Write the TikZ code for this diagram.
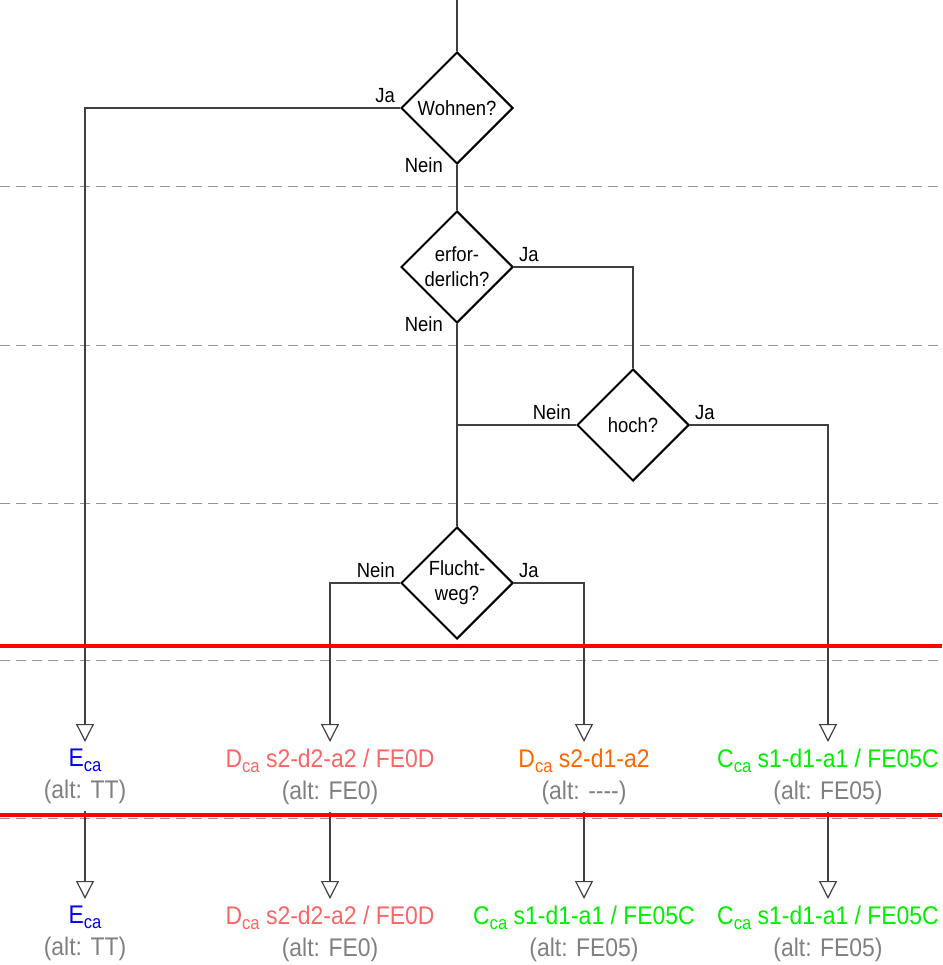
\documentclass[tikz,border=0pt]{standalone}
\usepackage{fontspec}
\setmainfont{Liberation Sans}[FakeStretch=0.9]
\usetikzlibrary{shapes.geometric,arrows.meta}

\definecolor{ecol}{HTML}{0000FF}
\definecolor{dcol}{HTML}{FF6464}
\definecolor{ocol}{HTML}{FF6600}
\definecolor{ccol}{HTML}{00F000}
\definecolor{altcol}{HTML}{808080}
\definecolor{linecol}{HTML}{404040}

\newcommand{\lowidx}[1]{\raisebox{-5pt}{\fontsize{18.5}{18.5}\selectfont #1}}
\newcommand{\outcome}[3]{\textcolor{#1}{#2}\\\textcolor{altcol}{(alt: #3)}}

\tikzset{
  ask/.style={diamond, draw=black, line width=2pt, minimum width=112pt, minimum height=112pt,
    inner sep=0pt, align=center, font=\fontsize{20.5}{25}\selectfont},
  yn/.style={font=\fontsize{20.5}{21}\selectfont, inner sep=2pt},
  res/.style={anchor=north, align=center, inner xsep=2pt, inner ysep=7pt, font=\fontsize{25.5}{32}\selectfont},
  flow/.style={draw=linecol, line width=1.2pt},
  hit/.style={flow, -{Triangle[open, length=18pt, width=18pt]}},
}

\begin{document}
\begin{tikzpicture}[x=1pt, y=-1pt]
	\useasboundingbox (0,0) rectangle (942,965);

	% Trennlinien
	\foreach \yy in {187,345,503,660,818}
		\draw[altcol!85, line width=1pt, dash pattern=on 10pt off 6pt] (0,\yy) -- (942,\yy);

	\coordinate (top) at (457,0);
	\node[ask] (wohnen) at (457,108) {Wohnen?};
	\node[ask] (erf) at (457,267) {erfor-\\derlich?};
	\node[ask] (hoch) at (633,425) {hoch?};
	\node[ask] (flucht) at (457,583) {Flucht-\\weg?};

	\node[yn, anchor=south east] (wja) at ([xshift=-3pt,yshift=3pt]wohnen.west) {Ja};
	\node[yn, anchor=east] (wnein) at ([xshift=-12pt]wohnen.south) {Nein};
	\node[yn, anchor=south west] (eja) at ([xshift=3pt,yshift=3pt]erf.east) {Ja};
	\node[yn, anchor=east] (enein) at ([xshift=-12pt]erf.south) {Nein};
	\node[yn, anchor=south east] (hnein) at ([xshift=-3pt,yshift=3pt]hoch.west) {Nein};
	\node[yn, anchor=south west] (hja) at ([xshift=3pt,yshift=3pt]hoch.east) {Ja};
	\node[yn, anchor=south east] (fnein) at ([xshift=-3pt,yshift=3pt]flucht.west) {Nein};
	\node[yn, anchor=south west] (fja) at ([xshift=3pt,yshift=3pt]flucht.east) {Ja};

	\node[res] (r1) at (85,742) {\outcome{ecol}{E\lowidx{ca}}{TT}};
	\node[res] (r2) at (330,742) {\outcome{dcol}{D\lowidx{ca} s2-d2-a2 / FE0D}{FE0}};
	\node[res] (r3) at (584,742) {\outcome{ocol}{D\lowidx{ca} s2-d1-a2}{-\kern0pt-\kern0pt-\kern0pt-}};
	\node[res] (r4) at (828,742) {\outcome{ccol}{C\lowidx{ca} s1-d1-a1 / FE05C}{FE05}};

	\node[res] (s1) at (85,899) {\outcome{ecol}{E\lowidx{ca}}{TT}};
	\node[res] (s2) at (330,899) {\outcome{dcol}{D\lowidx{ca} s2-d2-a2 / FE0D}{FE0}};
	\node[res] (s3) at (584,899) {\outcome{ccol}{C\lowidx{ca} s1-d1-a1 / FE05C}{FE05}};
	\node[res] (s4) at (828,899) {\outcome{ccol}{C\lowidx{ca} s1-d1-a1 / FE05C}{FE05}};

	\draw[flow] (top) -- (wohnen.north);
	\draw[hit] (wohnen.west) -| (r1.north);
	\draw[flow] (wohnen.south) -- (erf.north);
	\draw[flow] (erf.east) -| (hoch.north);
	\draw[flow] (erf.south) -- (flucht.north);
	\draw[flow] (hoch.west) -- (hoch.west -| erf.south);
	\draw[hit] (hoch.east) -| (r4.north);
	\draw[hit] (flucht.west) -| (r2.north);
	\draw[hit] (flucht.east) -| (r3.north);
	\foreach \i/\j in {r1/s1, r2/s2, r3/s3, r4/s4}
		\draw[hit] (\i.south) -- (\j.north);

	\draw[red, line width=3.5pt] (0,646) -- (942,646);
	\draw[red, line width=3.5pt] (0,815) -- (942,815);
\end{tikzpicture}
\end{document}
